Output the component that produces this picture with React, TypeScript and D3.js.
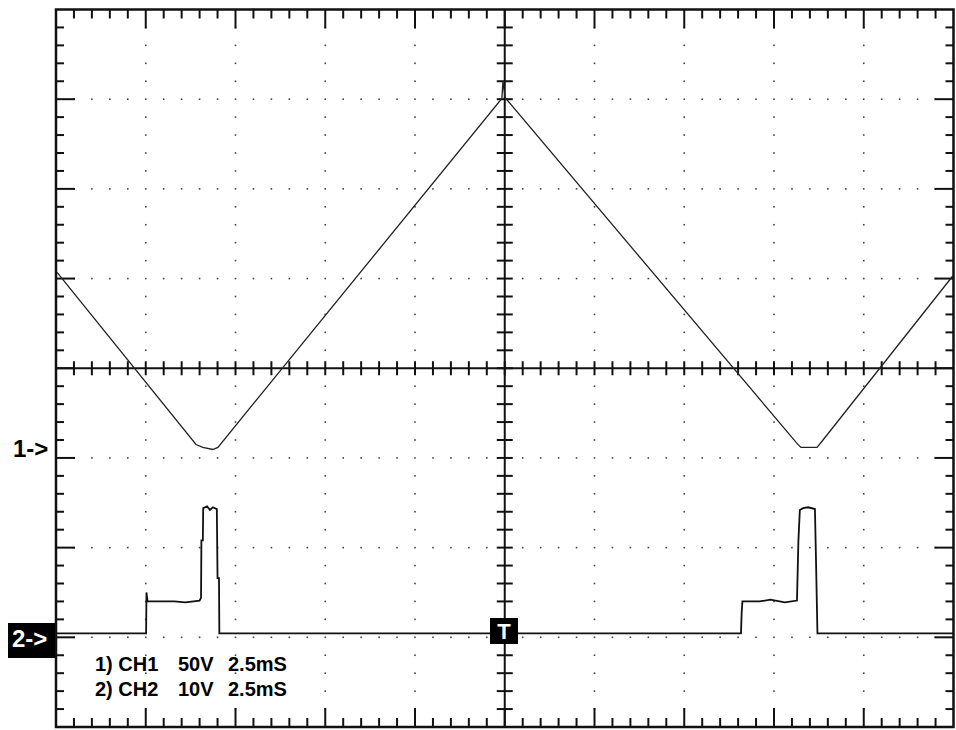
import React from 'react';
import * as d3 from 'd3';

// ---- data ----
const msPerDiv = 2.5;
const divsX = 10;
const divsY = 8;
const subDivs = 5;

const ch1VoltsPerDiv = 50;
const ch1GroundDiv = -1;
const ch1Time = [0.03, 3.9, 4.09, 4.37, 4.51, 12.42, 12.45, 12.51, 20.64, 20.75, 21.2, 21.31, 24.99];
const ch1Volts = [103.4, 7.5, 5.9, 4.7, 5.9, 200.4, 210, 200.9, 8.1, 5.9, 5.9, 8.6, 101.7];

const ch2VoltsPerDiv = 10;
const ch2GroundDiv = -3;
const ch2Time = [0, 2.51, 2.52, 2.55, 3.3, 3.6, 4.0, 4.04, 4.05, 4.09, 4.1, 4.21, 4.29, 4.37, 4.48, 4.5, 4.54, 4.55,
  19.08, 19.1, 19.12, 19.6, 19.9, 20.3, 20.64, 20.68, 20.72, 20.81, 20.95, 21.14, 21.17, 21.21, 25];
const ch2Volts = [0.45, 0.45, 5.0, 4.0, 4.0, 3.9, 4.1, 4.4, 10.8, 10.8, 14.4, 14.6, 14.2, 14.5, 14.3, 6.6, 6.6, 0.45,
  0.45, 2.8, 4.0, 4.0, 4.2, 3.9, 4.1, 10.8, 14.2, 14.4, 14.5, 14.3, 8.6, 0.45, 0.45];

const legendRows = [
  ['1) CH1', '50V', '2.5mS'],
  ['2) CH2', '10V', '2.5mS'],
];
const ch1Label = '1->';
const ch2Label = '2->';
const triggerLabel = 'T';

export default function App() {
  const W = 956, H = 730;
  const X0 = 56, X1 = 953.5, Y0 = 9.5, Y1 = 727;
  const x = d3.scaleLinear().domain([0, msPerDiv * divsX]).range([X0, X1]);
  const y = d3.scaleLinear().domain([-divsY / 2, divsY / 2]).range([Y1, Y0]);
  const xDiv = d3.scaleLinear().domain([0, divsX]).range([X0, X1]);
  const yDiv = d3.scaleLinear().domain([0, divsY]).range([Y0, Y1]);
  const cx = xDiv(divsX / 2), cy = yDiv(divsY / 2);

  const line = d3.line<[number, number]>().x(d => d[0]).y(d => d[1]);
  const ch1Pts: [number, number][] = ch1Time.map((t, i) => [x(t), y(ch1Volts[i] / ch1VoltsPerDiv + ch1GroundDiv)]);
  const ch2Pts: [number, number][] = ch2Time.map((t, i) => [x(t), y(ch2Volts[i] / ch2VoltsPerDiv + ch2GroundDiv)]);

  const subX = d3.range(1, divsX * subDivs);
  const subY = d3.range(1, divsY * subDivs);
  const ink = '#111';
  const dots: JSX.Element[] = [];
  // dotted grid along vertical lines
  for (let i = 1; i < divsX; i++) {
    if (i === divsX / 2) continue;
    const gx = xDiv(i);
    subY.forEach(j => {
      dots.push(<rect key={`v${i}-${j}`} x={gx - 0.8} y={yDiv(j / subDivs) - 0.8} width={1.6} height={1.6} fill="#444" />);
    });
  }
  for (let i = 1; i < divsY; i++) {
    if (i === divsY / 2) continue;
    const gy = yDiv(i);
    subX.forEach(j => {
      if (j % subDivs === 0) return;
      dots.push(<rect key={`h${i}-${j}`} x={xDiv(j / subDivs) - 0.8} y={gy - 0.8} width={1.6} height={1.6} fill="#444" />);
    });
  }

  const ticks: JSX.Element[] = [];
  subX.forEach(j => {
    const tx = xDiv(j / subDivs);
    const major = j % subDivs === 0;
    const len = major ? 19 : 9;
    ticks.push(<line key={`tt${j}`} x1={tx} x2={tx} y1={Y0} y2={Y0 + len} stroke={ink} strokeWidth={2} />);
    ticks.push(<line key={`tb${j}`} x1={tx} x2={tx} y1={Y1} y2={Y1 - len} stroke={ink} strokeWidth={2} />);
    ticks.push(<line key={`tc${j}`} x1={tx} x2={tx} y1={cy - 7} y2={cy + 7} stroke={ink} strokeWidth={2} />);
  });
  subY.forEach(j => {
    const ty = yDiv(j / subDivs);
    const major = j % subDivs === 0;
    const len = major ? 19 : 8;
    ticks.push(<line key={`tl${j}`} x1={X0} x2={X0 + len} y1={ty} y2={ty} stroke={ink} strokeWidth={2} />);
    ticks.push(<line key={`tr${j}`} x1={X1} x2={X1 - len} y1={ty} y2={ty} stroke={ink} strokeWidth={2} />);
    ticks.push(<line key={`tm${j}`} x1={cx - 8} x2={cx + 8} y1={ty} y2={ty} stroke={ink} strokeWidth={2} />);
  });

  const font = '"Liberation Sans", Arial, sans-serif';
  const colX = [95, 178, 228];
  const rowY = [671, 696];

  return (
    <svg width={W} height={H} style={{ position: 'absolute', left: 0, top: 0, background: '#fff' }}>
      <rect x={0} y={0} width={W} height={H} fill="#fff" />
      {dots}
      <line x1={cx} x2={cx} y1={Y0} y2={Y1} stroke={ink} strokeWidth={2} />
      <line x1={X0} x2={X1} y1={cy} y2={cy} stroke={ink} strokeWidth={2} />
      {ticks}
      <rect x={X0} y={Y0} width={X1 - X0} height={Y1 - Y0} fill="none" stroke={ink} strokeWidth={2.5} />
      <path d={line(ch1Pts) || ''} fill="none" stroke="#222" strokeWidth={1.3} />
      <path d={line(ch2Pts) || ''} fill="none" stroke="#111" strokeWidth={1.8} />
      <text x={13} y={457} fontFamily={font} fontWeight="bold" fontSize={24} fill="#000">{ch1Label}</text>
      <rect x={8} y={623} width={47} height={35} fill="#000" />
      <text x={12} y={647} fontFamily={font} fontWeight="bold" fontSize={24} fill="#fff">{ch2Label}</text>
      <rect x={490} y={618} width={28} height={26} fill="#000" />
      <text x={504} y={639} textAnchor="middle" fontFamily={font} fontWeight="bold" fontSize={22} fill="#fff">{triggerLabel}</text>
      {legendRows.map((row, r) => row.map((s, c) => (
        <text key={`lg${r}-${c}`} x={colX[c]} y={rowY[r]} fontFamily={font} fontWeight="bold" fontSize={20} fill="#000">{s}</text>
      )))}
    </svg>
  );
}
